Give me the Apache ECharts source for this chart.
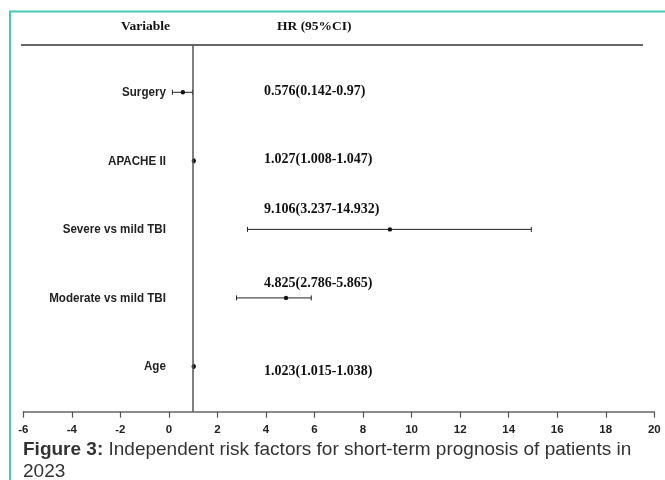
<!DOCTYPE html>
<html>
<head>
<meta charset="utf-8">
<script src="https://cdn.jsdelivr.net/npm/echarts@6/dist/echarts.min.js"></script>
<style>
  html, body { margin: 0; padding: 0; background: #ffffff; }
  #chart { width: 665px; height: 480px; }
</style>
</head>
<body>
<div id="chart"></div>
<script>
// Forest plot: hazard ratios with 95% confidence intervals
const variables = ['Surgery', 'APACHE II', 'Severe vs mild TBI', 'Moderate vs mild TBI', 'Age'];
const hr = [0.576, 1.027, 9.106, 4.825, 1.023];
const ciLow = [0.142, 1.008, 3.237, 2.786, 1.015];
const ciHigh = [0.97, 1.047, 14.932, 5.865, 1.038];
const xMin = -6, xMax = 20, xStep = 2;
const refValue = 1;

// vertical nudge of each HR text relative to its row (px)
const textShift = [-1, -1, -20, -15, 5];

const n = variables.length;
const rows = variables.map((name, i) => [hr[i], ciLow[i], ciHigh[i], n - i, i]);

const SERIF = '"Liberation Serif", "Times New Roman", serif';
const SANS = '"Liberation Sans", Arial, sans-serif';

function renderItem(params, api) {
  const i = api.value(4);
  const y = api.value(3);
  const pLo = api.coord([api.value(1), y]);
  const pHi = api.coord([api.value(2), y]);
  const pHr = api.coord([api.value(0), y]);
  const pZero = api.coord([0, y]);
  const pText = api.coord([4, y]);
  const stroke = { stroke: '#222', lineWidth: 1 };
  const cap = 2.5;
  return {
    type: 'group',
    children: [
      { type: 'line', shape: { x1: pLo[0], y1: pLo[1], x2: pHi[0], y2: pHi[1] }, style: stroke },
      { type: 'line', shape: { x1: pLo[0], y1: pLo[1] - cap, x2: pLo[0], y2: pLo[1] + cap }, style: stroke },
      { type: 'line', shape: { x1: pHi[0], y1: pHi[1] - cap, x2: pHi[0], y2: pHi[1] + cap }, style: stroke },
      { type: 'circle', shape: { cx: pHr[0], cy: pHr[1], r: 2.2 }, style: { fill: '#111' } },
      {
        type: 'text',
        x: pText[0] - 2, y: pText[1] + textShift[i],
        style: {
          text: hr[i] + '(' + ciLow[i] + '-' + ciHigh[i] + ')',
          font: 'bold 14px ' + SERIF, fill: '#111',
          textAlign: 'left', textVerticalAlign: 'middle'
        }
      },
      {
        type: 'text',
        x: pZero[0] - 3, y: pZero[1],
        scaleX: 0.86, originX: 0, originY: 0,
        style: {
          text: variables[i],
          font: 'bold 13.5px ' + SANS, fill: '#222',
          textAlign: 'right', textVerticalAlign: 'middle'
        }
      }
    ]
  };
}

const chart = echarts.init(document.getElementById('chart'), null, { renderer: 'canvas' });
chart.setOption({
  backgroundColor: '#ffffff',
  animation: false,
  title: {
    left: 23, top: 439, padding: 0,
    text: '{b|Figure 3:} Independent risk factors for short-term prognosis of patients in\n2023',
    textStyle: {
      fontFamily: SANS, fontSize: 19, fontWeight: 'normal', color: '#333', lineHeight: 22,
      rich: { b: { fontFamily: SANS, fontSize: 19, fontWeight: 'bold', color: '#333', lineHeight: 22 } }
    }
  },
  grid: { left: 23.3, right: 10.7, top: 45, bottom: 68.3 },
  xAxis: {
    type: 'value', min: xMin, max: xMax, interval: xStep,
    splitLine: { show: false },
    axisLine: { show: true, lineStyle: { color: '#666', width: 1.5 } },
    axisTick: { show: true, length: 6, lineStyle: { color: '#555', width: 1.2 } },
    axisLabel: { margin: 12, color: '#222', fontFamily: SANS, fontWeight: 'bold', fontSize: 11.5 }
  },
  yAxis: {
    type: 'value', min: 0.34, max: 5.69, show: false
  },
  graphic: [
    {
      type: 'rect', silent: true,
      shape: { x: 10, y: 11.5, width: 700, height: 520 },
      style: { fill: 'none', stroke: '#45c9b5', lineWidth: 2 }
    },
    {
      type: 'line', silent: true,
      shape: { x1: 21, y1: 45, x2: 643, y2: 45 },
      style: { stroke: '#666', lineWidth: 2 }
    },
    {
      type: 'text', left: 121, top: 20,
      style: { text: 'Variable', font: 'bold 13.5px ' + SERIF, fill: '#111' }
    },
    {
      type: 'text', left: 277, top: 20,
      style: { text: 'HR (95%CI)', font: 'bold 13.5px ' + SERIF, fill: '#111' }
    }
  ],
  series: [
    {
      type: 'custom',
      renderItem: renderItem,
      data: rows,
      encode: { x: [0, 1, 2], y: 3 },
      z: 3,
      markLine: {
        silent: true, symbol: 'none', label: { show: false },
        lineStyle: { color: '#555', width: 1.5, type: 'solid' },
        data: [{ xAxis: refValue }]
      }
    }
  ]
});
</script>
</body>
</html>
